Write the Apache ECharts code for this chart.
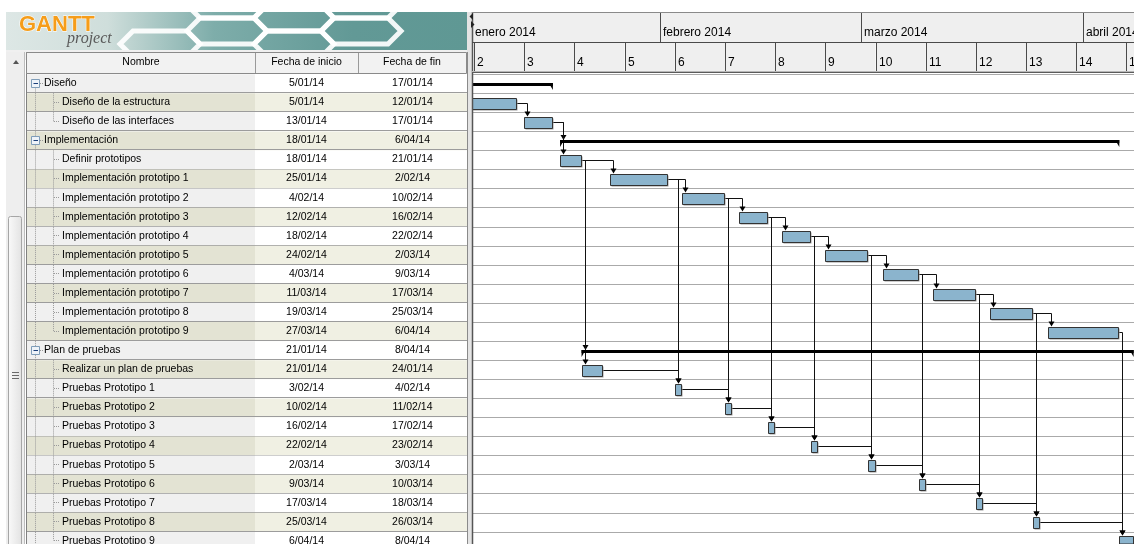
<!DOCTYPE html>
<html>
<head>
    <meta charset="UTF-8">
    <style type="text/css">
        html, body { margin: 0; padding: 0; background: #fff; }
        #main { width: 1134px; height: 544px; }
    </style>
</head>
<body>
<div id="main"></div>
<script src="https://cdn.jsdelivr.net/npm/echarts@6/dist/echarts.min.js"></script>
<script type="text/javascript">
    // tareas (filas de la tabla, de arriba abajo)
    var taskNames = ['Diseño', 'Diseño de la estructura', 'Diseño de las interfaces', 'Implementación',
        'Definir prototipos', 'Implementación prototipo 1', 'Implementación prototipo 2', 'Implementación prototipo 3',
        'Implementación prototipo 4', 'Implementación prototipo 5', 'Implementación prototipo 6', 'Implementación prototipo 7',
        'Implementación prototipo 8', 'Implementación prototipo 9', 'Plan de pruebas', 'Realizar un plan de pruebas',
        'Pruebas Prototipo 1', 'Pruebas Prototipo 2', 'Pruebas Prototipo 3', 'Pruebas Prototipo 4', 'Pruebas Prototipo 5',
        'Pruebas Prototipo 6', 'Pruebas Prototipo 7', 'Pruebas Prototipo 8', 'Pruebas Prototipo 9'];
    var startDates = ['5/01/14', '5/01/14', '13/01/14', '18/01/14', '18/01/14', '25/01/14', '4/02/14', '12/02/14',
        '18/02/14', '24/02/14', '4/03/14', '11/03/14', '19/03/14', '27/03/14', '21/01/14', '21/01/14', '3/02/14',
        '10/02/14', '16/02/14', '22/02/14', '2/03/14', '9/03/14', '17/03/14', '25/03/14', '6/04/14'];
    var endDates = ['17/01/14', '12/01/14', '17/01/14', '6/04/14', '21/01/14', '2/02/14', '10/02/14', '16/02/14',
        '22/02/14', '2/03/14', '9/03/14', '17/03/14', '25/03/14', '6/04/14', '8/04/14', '24/01/14', '4/02/14',
        '11/02/14', '17/02/14', '23/02/14', '3/03/14', '10/03/14', '18/03/14', '26/03/14', '8/04/14'];
    var taskLevels = [0, 1, 1, 0, 1, 1, 1, 1, 1, 1, 1, 1, 1, 1, 0, 1, 1, 1, 1, 1, 1, 1, 1, 1, 1];
    var lastChildRows = [2, 13, 24];
    // dependencias [predecesora, sucesora]
    var links = [[1, 2], [2, 3], [2, 4], [4, 5], [5, 6], [6, 7], [7, 8], [8, 9], [9, 10], [10, 11], [11, 12], [12, 13],
        [4, 14], [4, 15], [15, 16], [5, 16], [6, 17], [7, 18], [8, 19], [9, 20], [10, 21], [11, 22], [12, 23], [13, 24],
        [16, 17], [17, 18], [18, 19], [19, 20], [20, 21], [21, 22], [22, 23], [23, 24]];
    // cabecera del diagrama
    var monthLabels = ['enero 2014', 'febrero 2014', 'marzo 2014', 'abril 2014'];
    var monthStarts = ['1/01/14', '1/02/14', '1/03/14', '1/04/14'];
    var monthEnds = ['1/02/14', '1/03/14', '1/04/14', '1/05/14'];
    var weekLabels = ['2', '3', '4', '5', '6', '7', '8', '9', '10', '11', '12', '13', '14', '15'];
    var weekStarts = ['6/01/14', '13/01/14', '20/01/14', '27/01/14', '3/02/14', '10/02/14', '17/02/14',
        '24/02/14', '3/03/14', '10/03/14', '17/03/14', '24/03/14', '31/03/14', '7/04/14'];
    var weekEnds = weekStarts.slice(1).concat(['14/04/14']);

    // dia del año (1 ene = 0)
    function dayOf(s) {
        var p = s.split('/');
        return (Date.UTC(2000 + +p[2], +p[1] - 1, +p[0]) - Date.UTC(2014, 0, 1)) / 86400000;
    }
    function isSummary(i) { return taskLevels[i] === 0; }

    var FONT = '10.5px "Liberation Sans", Arial, sans-serif';
    var COLS = [228, 103, 109];
    var ROW_H = 19.07, GRID_TOP = 74.2;
    var VISIBLE_ROWS = (544 - GRID_TOP) / ROW_H;

    var rowData = taskNames.map(function (n, i) { return [0, i]; });
    var barData = taskNames.map(function (n, i) {
        return [dayOf(startDates[i]), dayOf(endDates[i]), i, isSummary(i) ? 1 : 0];
    });
    var linkData = links.map(function (l) {
        return [dayOf(endDates[l[0]]), l[0], dayOf(startDates[l[1]]), l[1], isSummary(l[1]) ? 1 : 0];
    });
    var headerCells = monthLabels.map(function (m, i) {
        return { name: m, value: [dayOf(monthStarts[i]), dayOf(monthEnds[i]), 0] };
    }).concat(weekLabels.map(function (w, i) {
        return { name: w, value: [dayOf(weekStarts[i]), dayOf(weekEnds[i]), 1] };
    }));

    function dotted(x1, y1, x2, y2) {
        return { type: 'line', shape: { x1: x1, y1: y1, x2: x2, y2: y2 },
            style: { stroke: '#9a9a9a', lineWidth: 1, lineDash: [1, 1] } };
    }

    function renderRow(params, api) {
        var i = api.value(1);
        var mid = api.coord([0, i + 0.5])[1];
        var h = api.size([0, 1])[1];
        var top = mid - h / 2;
        var left = params.coordSys.x;
        var odd = i % 2 === 1;
        var lvl = taskLevels[i];
        var cy = Math.round(mid) - 0.5;
        var kids = [
            { type: 'rect', shape: { x: left, y: top, width: COLS[0], height: h }, style: { fill: odd ? '#e3e3d3' : '#f0f0f0' } },
            { type: 'rect', shape: { x: left + COLS[0], y: top, width: COLS[1] + COLS[2], height: h }, style: { fill: odd ? '#f0f0e3' : '#ffffff' } },
            { type: 'line', shape: { x1: left, y1: Math.round(top + h) - 0.5, x2: left + 440, y2: Math.round(top + h) - 0.5 }, style: { stroke: '#9c9c9c', lineWidth: 1 } }
        ];
        // lineas del arbol
        kids.push(dotted(35.5, i === 0 ? cy + 5 : top, 35.5, top + h));
        if (lvl === 0) {
            kids.push({ type: 'rect', shape: { x: 31.5, y: cy - 4, width: 8, height: 8 },
                style: { fill: '#eef3f9', stroke: '#7f9db9', lineWidth: 1 } });
            kids.push({ type: 'line', shape: { x1: 33.5, y1: cy, x2: 38, y2: cy }, style: { stroke: '#1c3f7a', lineWidth: 1 } });
            kids.push(dotted(40, cy, 43, cy));
        } else {
            var last = lastChildRows.indexOf(i) >= 0;
            kids.push(dotted(53.5, top, 53.5, last ? cy : top + h));
            kids.push(dotted(54, cy, 60, cy));
        }
        kids.push({ type: 'text', style: { text: taskNames[i], x: lvl === 0 ? 44 : 62, y: mid - 0.5,
            font: FONT, fill: '#000', align: 'left', verticalAlign: 'middle' } });
        kids.push({ type: 'text', style: { text: startDates[i], x: left + COLS[0] + COLS[1] / 2, y: mid - 0.5,
            font: FONT, fill: '#000', align: 'center', verticalAlign: 'middle' } });
        kids.push({ type: 'text', style: { text: endDates[i], x: left + COLS[0] + COLS[1] + COLS[2] / 2, y: mid - 0.5,
            font: FONT, fill: '#000', align: 'center', verticalAlign: 'middle' } });
        return { type: 'group', children: kids };
    }

    function renderHeader(params, api) {
        var cs = params.coordSys;
        var band = api.value(2);
        var xa = Math.round(api.coord([api.value(0), 0])[0]);
        var xb = api.coord([api.value(1), 0])[0];
        var x1 = Math.max(xa, cs.x), x2 = Math.min(xb, cs.x + cs.width);
        if (x2 <= x1) return;
        var y0 = band ? 43 : 13;
        var kids = [
            { type: 'rect', shape: { x: x1, y: y0, width: x2 - x1, height: 29 }, style: { fill: '#efefef' } }
        ];
        if (xa > cs.x) {
            kids.push({ type: 'line', shape: { x1: xa + 0.5, y1: y0, x2: xa + 0.5, y2: y0 + 29 }, style: { stroke: '#4a4a4a', lineWidth: 1 } });
        }
        kids.push({ type: 'text', style: { text: headerCells[params.dataIndex].name, x: Math.max(xa, cs.x) + 3, y: y0 + 19.5,
            font: '12px "Liberation Sans", Arial, sans-serif', fill: '#000', align: 'left', verticalAlign: 'middle' } });
        return { type: 'group', children: kids };
    }

    function renderBar(params, api) {
        var row = api.value(2) + 0.5;
        var p1 = api.coord([api.value(0), row]);
        var p2 = api.coord([api.value(1), row]);
        var cs = params.coordSys;
        var kids = [];
        if (api.value(3)) {
            var y = Math.round(p1[1]) - 1;
            var r = echarts.graphic.clipRectByRect({ x: p1[0], y: y, width: p2[0] - p1[0], height: 3 }, cs);
            if (r) kids.push({ type: 'rect', shape: r, style: { fill: '#000' } });
            if (p1[0] >= cs.x) kids.push({ type: 'polygon', shape: { points: [[p1[0], y], [p1[0] + 4, y], [p1[0], y + 7]] }, style: { fill: '#000' } });
            if (p2[0] <= cs.x + cs.width) kids.push({ type: 'polygon', shape: { points: [[p2[0] - 4, y], [p2[0], y], [p2[0], y + 7]] }, style: { fill: '#000' } });
        } else {
            var top = Math.round(p1[1] - 5) + 0.5;
            var x1 = Math.round(p1[0]) + 0.5, x2 = Math.round(p2[0]) - 0.5;
            var sh = echarts.graphic.clipRectByRect({ x: x1 + 1, y: top + 1, width: x2 - x1, height: 11 }, cs);
            var bar = echarts.graphic.clipRectByRect({ x: x1, y: top, width: x2 - x1, height: 11 }, cs);
            if (sh) kids.push({ type: 'rect', shape: sh, style: { fill: '#9a9a9a' } });
            if (bar) kids.push({ type: 'rect', shape: bar, style: { fill: '#8bb4cd', stroke: '#333', lineWidth: 1 } });
        }
        return { type: 'group', children: kids };
    }

    function renderLink(params, api) {
        var a = api.coord([api.value(0), api.value(1) + 0.5]);
        var b = api.coord([api.value(2), api.value(3) + 0.5]);
        var y1 = Math.round(a[1]) + 0.5;
        var x1 = Math.round(a[0]);
        var x2 = Math.round(b[0]) + 3.5;
        var yEnd = api.value(4) ? Math.round(b[1]) - 1 : Math.round(b[1] - 5) - 0.5;
        return {
            type: 'group', children: [
                { type: 'polyline', shape: { points: [[x1, y1], [x2, y1], [x2, yEnd - 3]] }, style: { stroke: '#111', lineWidth: 1, fill: 'none' } },
                { type: 'polygon', shape: { points: [[x2 - 3, yEnd - 5], [x2 + 3, yEnd - 5], [x2, yEnd]] }, style: { fill: '#000' } }
            ]
        };
    }

    // banner: hexagonos
    function hex(cx, cy) {
        var w = 80, h = 26, s = 13;
        return [[cx - w / 2, cy], [cx - w / 2 + s, cy - h / 2], [cx + w / 2 - s, cy - h / 2],
            [cx + w / 2, cy], [cx + w / 2 - s, cy + h / 2], [cx - w / 2 + s, cy + h / 2]];
    }
    var hexCenters = [[160, 44], [227, 31], [227, 5], [294, 18], [294, 44], [361, 31], [361, 5]];
    var hexes = hexCenters.map(function (c) {
        return { type: 'polygon', z: 2, shape: { points: hex(c[0], c[1]) },
            style: { fill: 'none', stroke: 'rgba(255,255,255,0.92)', lineWidth: 5 } };
    });

    var graphics = [
        { type: 'rect', z: 1, shape: { x: 6, y: 12, width: 462, height: 38 },
            style: { fill: new echarts.graphic.LinearGradient(0, 0, 1, 0, [
                { offset: 0, color: '#dde7e5' }, { offset: 0.22, color: '#cfdedb' },
                { offset: 0.45, color: '#7eadaa' }, { offset: 0.75, color: '#629996' }, { offset: 1, color: '#5f9894' }]) } }
    ].concat(hexes).concat([
        { type: 'rect', z: 3, shape: { x: 0, y: 0, width: 470, height: 12 }, style: { fill: '#fff' } },
        { type: 'rect', z: 3, shape: { x: 6, y: 50, width: 462, height: 10 }, style: { fill: '#f0f0f0' } },
        { type: 'text', z: 4, style: { text: 'GANTT', x: 19, y: 14, font: 'bold 22px "Liberation Sans", Arial, sans-serif',
            fill: '#f59d1a', stroke: '#ffffff', lineWidth: 1 } },
        { type: 'text', z: 4, style: { text: 'project', x: 67, y: 31, font: 'italic 16px "Liberation Serif", serif', fill: '#5a5a5a' } },
        // barra de desplazamiento
        { type: 'rect', z: 5, shape: { x: 6, y: 52, width: 18, height: 492 }, style: { fill: '#eeeeee' } },
        { type: 'polygon', z: 6, shape: { points: [[13, 64], [19, 64], [16, 60]] }, style: { fill: '#555' } },
        { type: 'rect', z: 6, shape: { x: 8.5, y: 216.5, width: 13, height: 340, r: 2 },
            style: { fill: new echarts.graphic.LinearGradient(0, 0, 1, 0, [{ offset: 0, color: '#fafafa' }, { offset: 1, color: '#e2e2e2' }]), stroke: '#a6a6a6' } },
        { type: 'line', z: 7, shape: { x1: 12, y1: 372.5, x2: 19, y2: 372.5 }, style: { stroke: '#6a6a6a' } },
        { type: 'line', z: 7, shape: { x1: 12, y1: 375.5, x2: 19, y2: 375.5 }, style: { stroke: '#6a6a6a' } },
        { type: 'line', z: 7, shape: { x1: 12, y1: 378.5, x2: 19, y2: 378.5 }, style: { stroke: '#6a6a6a' } },
        { type: 'line', z: 7, shape: { x1: 24.5, y1: 52, x2: 24.5, y2: 544 }, style: { stroke: '#bdbdbd' } },
        { type: 'line', z: 7, shape: { x1: 26.5, y1: 52, x2: 26.5, y2: 544 }, style: { stroke: '#808080' } },
        // cabecera de la tabla
        { type: 'rect', z: 8, shape: { x: 26.5, y: 52.5, width: 440, height: 21 }, style: { fill: '#f2f2f2', stroke: '#8a8a8a' } },
        { type: 'line', z: 9, shape: { x1: 255.5, y1: 53, x2: 255.5, y2: 73 }, style: { stroke: '#9a9a9a' } },
        { type: 'line', z: 9, shape: { x1: 358.5, y1: 53, x2: 358.5, y2: 73 }, style: { stroke: '#9a9a9a' } },
        { type: 'text', z: 9, style: { text: 'Nombre', x: 141, y: 62.5, font: FONT, fill: '#000', align: 'center', verticalAlign: 'middle' } },
        { type: 'text', z: 9, style: { text: 'Fecha de inicio', x: 306.5, y: 62.5, font: FONT, fill: '#000', align: 'center', verticalAlign: 'middle' } },
        { type: 'text', z: 9, style: { text: 'Fecha de fin', x: 412, y: 62.5, font: FONT, fill: '#000', align: 'center', verticalAlign: 'middle' } },
        // separador
        { type: 'rect', z: 8, shape: { x: 467, y: 12, width: 5, height: 532 }, style: { fill: '#e4e4e4' } },
        { type: 'line', z: 9, shape: { x1: 467.5, y1: 52, x2: 467.5, y2: 544 }, style: { stroke: '#8a8a8a' } },
        { type: 'line', z: 9, shape: { x1: 472.5, y1: 12, x2: 472.5, y2: 544 }, style: { stroke: '#555', lineWidth: 1.5 } },
        { type: 'polygon', z: 9, shape: { points: [[473, 13], [473, 20], [469.5, 16.5]] }, style: { fill: '#222' } },
        { type: 'polygon', z: 9, shape: { points: [[471, 21], [471, 28], [474.5, 24.5]] }, style: { fill: '#222' } },
        // lineas de la cabecera del diagrama
        { type: 'line', z: 9, shape: { x1: 472, y1: 12.5, x2: 1134, y2: 12.5 }, style: { stroke: '#8a8a8a' } },
        { type: 'line', z: 9, shape: { x1: 472, y1: 42.5, x2: 1134, y2: 42.5 }, style: { stroke: '#4a4a4a' } },
        { type: 'line', z: 9, shape: { x1: 472, y1: 71.5, x2: 1134, y2: 71.5 }, style: { stroke: '#b8b8b8' } },
        { type: 'line', z: 9, shape: { x1: 472, y1: 72.5, x2: 1134, y2: 72.5 }, style: { stroke: '#5a5a5a' } }
    ]);

    var chart = echarts.init(document.getElementById('main'), null, { renderer: 'canvas' });
    chart.setOption({
        animation: false,
        backgroundColor: '#ffffff',
        graphic: graphics,
        grid: [
            { left: 27, top: GRID_TOP, width: 440, bottom: 0 },
            { left: 472, top: GRID_TOP, width: 662, bottom: 0 }
        ],
        xAxis: [
            { gridIndex: 0, type: 'value', min: 0, max: 440, show: false },
            { gridIndex: 1, type: 'value', min: 4.721, max: 97.05, show: false }
        ],
        yAxis: [
            { gridIndex: 0, type: 'value', min: 0, max: VISIBLE_ROWS, inverse: true, show: false },
            { gridIndex: 1, type: 'value', min: 0, max: VISIBLE_ROWS, interval: 1, inverse: true,
                axisLine: { show: false }, axisTick: { show: false }, axisLabel: { show: false },
                splitLine: { show: true, lineStyle: { color: '#aaaaaa', width: 1 } } }
        ],
        series: [
            { type: 'custom', name: 'tabla', xAxisIndex: 0, yAxisIndex: 0, renderItem: renderRow,
                encode: { x: 0, y: 1 }, data: rowData, silent: true },
            { type: 'custom', name: 'cabecera', xAxisIndex: 1, yAxisIndex: 1, renderItem: renderHeader, clip: false,
                encode: { x: [0, 1] }, data: headerCells, silent: true },
            { type: 'custom', name: 'dependencias', xAxisIndex: 1, yAxisIndex: 1, renderItem: renderLink, clip: true,
                encode: { x: [0, 2], y: [1, 3] }, data: linkData, silent: true, z: 3 },
            { type: 'custom', name: 'tareas', xAxisIndex: 1, yAxisIndex: 1, renderItem: renderBar,
                encode: { x: [0, 1], y: 2 }, data: barData, silent: true, z: 4 }
        ]
    });
</script>
</body>
</html>
